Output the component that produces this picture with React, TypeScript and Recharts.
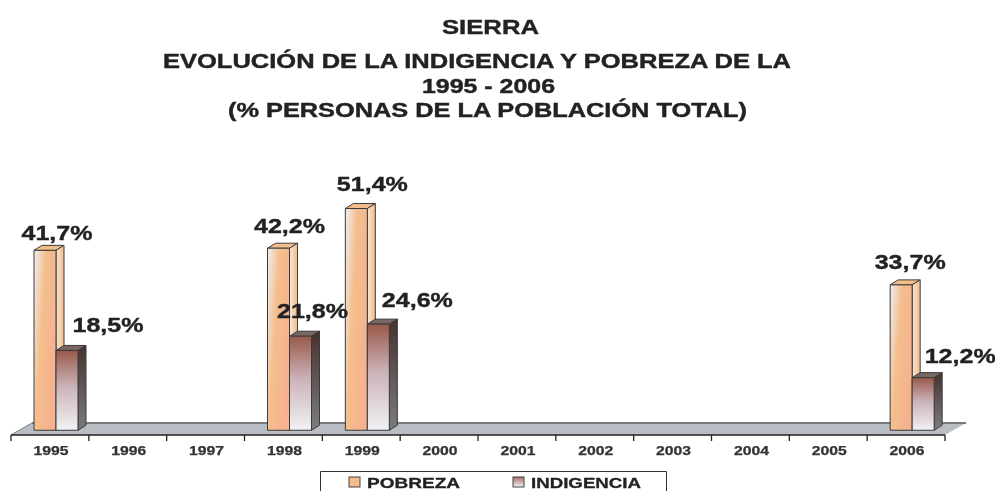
import React from 'react';
import { BarChart, Bar, XAxis, YAxis, LabelList, Legend, ReferenceArea } from 'recharts';

const years = ['1995','1996','1997','1998','1999','2000','2001','2002','2003','2004','2005','2006'];
const pobreza = [41.7, null, null, 42.2, 51.4, null, null, null, null, null, null, 33.7];
const indigencia = [18.5, null, null, 21.8, 24.6, null, null, null, null, null, null, 12.2];

const data = years.map((year, i) => ({ year, POBREZA: pobreza[i], INDIGENCIA: indigencia[i] }));

const FONT = '"Liberation Sans", Arial, sans-serif';
const INK = '#222';
const MARGIN = { top: 193, right: 50, bottom: 26, left: 11 };
const BAND = (995 - MARGIN.left - MARGIN.right) / years.length;
const BAR_SHIFT = 6; // bars sit right of the band centre, the 3D depth pushes them over

// label placement from the top centre of each drawn bar, [dx, dy]
// LabelList only counts the bars that exist, so these are 1995, 1998, 1999, 2006
const POBREZA_LABEL = [[12, -10], [11, -15], [16, -18], [9, -16]];
const INDIGENCIA_LABEL = [[41, -18], [12, -18], [39, -17], [37, -15]];

function Bar3D({ x, y, width, height, front, top, side }: any) {
  if (!height || height <= 0) return null;
  const px = x + BAR_SHIFT;
  const dx = 8;
  const dy = 5;
  return (
    <g stroke="#3a3a3a" strokeWidth={1} strokeLinejoin="round">
      <polygon points={`${px},${y} ${px + dx},${y - dy} ${px + width + dx},${y - dy} ${px + width},${y}`} fill={top} />
      <polygon points={`${px + width},${y} ${px + width + dx},${y - dy} ${px + width + dx},${y + height - dy} ${px + width},${y + height}`} fill={side} />
      <rect x={px} y={y} width={width} height={height} fill={front} />
    </g>
  );
}

function makeLabel(table: number[][]) {
  return function BarLabel({ x, y, width, value, index }: any) {
    const offset = table[index];
    if (typeof value !== 'number' || !offset) return null;
    return (
      <text x={x + BAR_SHIFT + width / 2 + offset[0]} y={y + offset[1]} textAnchor="middle" textLength={71} lengthAdjust="spacingAndGlyphs"
        fontFamily={FONT} fontWeight="bold" fontSize={21} fill={INK} stroke={INK} strokeWidth={0.4}>
        {value.toFixed(1).replace('.', ',')}%
      </text>
    );
  };
}

function Floor({ x, y, width, height }: any) {
  const bottom = y + height;
  const dx = 21;
  const dy = 12;
  return (
    <g>
      <polygon points={`${x},${bottom} ${x + width},${bottom} ${x + width + dx},${bottom - dy} ${x + dx},${bottom - dy}`} fill="#b9bdc4" />
      <line x1={x + dx} y1={bottom - dy} x2={x + width + dx} y2={bottom - dy} stroke="#77797e" strokeWidth={2} />
      <line x1={x} y1={bottom} x2={x + dx} y2={bottom - dy} stroke="#77797e" />
    </g>
  );
}

function YearTick({ x, y, payload, index }: any) {
  return (
    <g>
      <line x1={x - BAND / 2} y1={y - 8} x2={x - BAND / 2} y2={y - 2} stroke="#222" strokeWidth={1.3} />
      {index === years.length - 1 && <line x1={x + BAND / 2} y1={y - 8} x2={x + BAND / 2} y2={y - 2} stroke="#222" strokeWidth={1.3} />}
      <text x={x + 1} y={y + 12} textAnchor="middle" textLength={35} lengthAdjust="spacingAndGlyphs"
        fontFamily={FONT} fontWeight="bold" fontSize={12} fill="#333" stroke="#333" strokeWidth={0.25}>
        {payload.value}
      </text>
    </g>
  );
}

function LegendBox() {
  const entry = (name: string, fill: string, sx: number, tx: number, len: number) => (
    <g key={name}>
      <rect x={sx} y={6} width={11} height={10} fill={fill} stroke="#444" />
      <text x={tx} y={16.5} textLength={len} lengthAdjust="spacingAndGlyphs"
        fontFamily={FONT} fontWeight="bold" fontSize={15} fill={INK} stroke={INK} strokeWidth={0.3}>{name}</text>
    </g>
  );
  return (
    <svg width={347} height={20} style={{ display: 'block' }}>
      <defs>
        <linearGradient id="legInd" x1="0" y1="0" x2="0" y2="1">
          <stop offset="0" stopColor="#a87068" />
          <stop offset="1" stopColor="#f1f2f4" />
        </linearGradient>
      </defs>
      <path d="M0.5,20 V0.5 H346.5 V20" fill="#fff" stroke="#333" />
      {entry('POBREZA', '#f4bd8c', 29, 47, 93)}
      {entry('INDIGENCIA', 'url(#legInd)', 193, 211, 110)}
    </svg>
  );
}

function TitleLine({ y, x1, x2, size, children }: any) {
  return (
    <text x={x1} y={y} textLength={x2 - x1} lengthAdjust="spacingAndGlyphs"
      fontFamily={FONT} fontWeight="bold" fontSize={size} fill={INK} stroke={INK} strokeWidth={0.4}>
      {children}
    </text>
  );
}

export default function App() {
  return (
    <div style={{ position: 'absolute', left: 0, top: 0, width: 995, height: 491, overflow: 'hidden', background: '#fff', filter: 'blur(0.5px)' }}>
      <BarChart width={995} height={491} data={data} margin={MARGIN} barSize={22} barGap={0}>
        <defs>
          <linearGradient id="pobFront" x1="0" y1="0" x2="1" y2="0.5">
            <stop offset="0" stopColor="#eeeef2" />
            <stop offset="0.45" stopColor="#f4be8c" />
            <stop offset="1" stopColor="#f6b28e" />
          </linearGradient>
          <linearGradient id="pobSide" x1="0" y1="0" x2="1" y2="0">
            <stop offset="0" stopColor="#f6e6d8" />
            <stop offset="1" stopColor="#f2bc86" />
          </linearGradient>
          <linearGradient id="indFront" x1="0" y1="0" x2="0" y2="1">
            <stop offset="0" stopColor="#99594a" />
            <stop offset="0.45" stopColor="#cbb2b8" />
            <stop offset="1" stopColor="#f1f2f4" />
          </linearGradient>
          <linearGradient id="indSide" x1="0" y1="0" x2="0" y2="1">
            <stop offset="0" stopColor="#47322e" />
            <stop offset="1" stopColor="#7b7c80" />
          </linearGradient>
        </defs>
        <TitleLine x1={442} x2={539} y={34} size={21}>SIERRA</TitleLine>
        <TitleLine x1={163} x2={791} y={68} size={19.5}>EVOLUCIÓN DE LA INDIGENCIA Y POBREZA DE LA</TitleLine>
        <TitleLine x1={422} x2={555} y={93} size={19.5}>1995 - 2006</TitleLine>
        <TitleLine x1={228} x2={747} y={117} size={19.5}>(% PERSONAS DE LA POBLACIÓN TOTAL)</TitleLine>
        <XAxis dataKey="year" interval={0} tick={(p: any) => <YearTick {...p} />} tickLine={false} axisLine={{ stroke: '#222', strokeWidth: 1.5 }} />
        <YAxis hide domain={[-1.1, 55]} />
        <ReferenceArea y1={-1.1} y2={0} shape={(p: any) => <Floor {...p} />} ifOverflow="visible" />
        <Legend verticalAlign="top" content={() => <LegendBox />} wrapperStyle={{ left: 320, top: 471, width: 347, height: 0 }} />
        <Bar dataKey="POBREZA" isAnimationActive={false}
          shape={(p: any) => <Bar3D {...p} front="url(#pobFront)" top="#f3bd8a" side="url(#pobSide)" />}>
          <LabelList dataKey="POBREZA" content={makeLabel(POBREZA_LABEL)} />
        </Bar>
        <Bar dataKey="INDIGENCIA" isAnimationActive={false}
          shape={(p: any) => <Bar3D {...p} front="url(#indFront)" top="#7a6664" side="url(#indSide)" />}>
          <LabelList dataKey="INDIGENCIA" content={makeLabel(INDIGENCIA_LABEL)} />
        </Bar>
      </BarChart>
    </div>
  );
}
